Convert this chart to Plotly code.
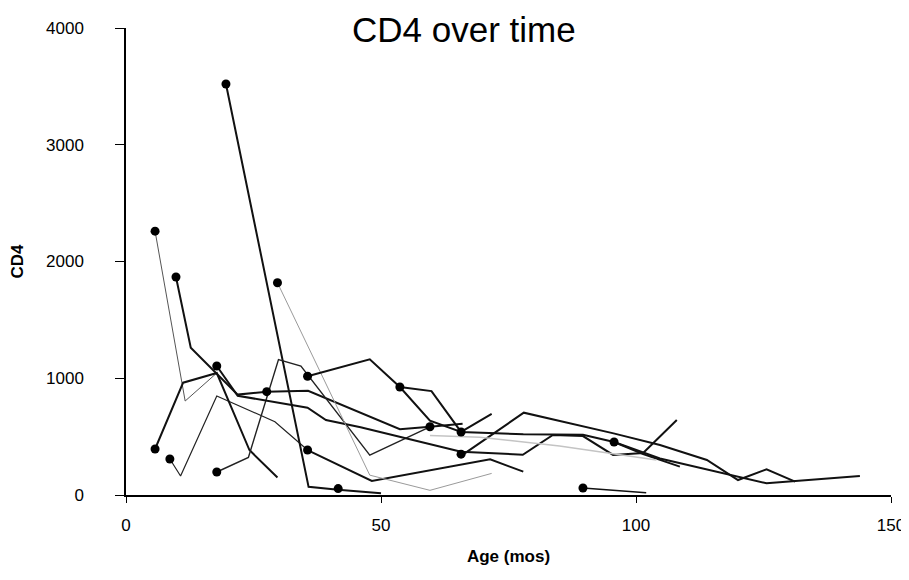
import plotly.graph_objects as go

# ---- data: each subject's CD4 trajectory (age in months, CD4 count) ----
s1_x = [5.7, 11.6, 17.8]
s1_y = [2260, 805, 1045]

s2_x = [8.6, 10.7, 17.8, 29.2, 35.6]
s2_y = [308, 163, 848, 628, 385]

s3_x = [35.6, 48.2, 71.4, 77.9]
s3_y = [385, 120, 305, 200]

s4_x = [19.6, 35.8, 41.6, 50.0]
s4_y = [3520, 70, 45, 15]

s5_x = [9.8, 12.7, 21.9, 27.6, 35.7, 47.8, 53.7, 59.6, 66.0]
s5_y = [1867, 1262, 860, 885, 893, 671, 563, 585, 610]

s6_x = [5.7, 11.2, 17.8, 24.2, 29.7]
s6_y = [394, 962, 1045, 385, 150]

s7_x = [17.8, 24.0, 29.9, 34.3, 47.8, 59.7]
s7_y = [197, 322, 1160, 1105, 342, 585]

s8_x = [17.8, 21.9, 35.6, 39.2, 46.0, 65.7, 77.8, 83.7, 89.6, 95.5, 101.4, 108.0]
s8_y = [1105, 850, 748, 642, 580, 370, 345, 514, 505, 343, 360, 642]

s9_x = [29.7, 47.8, 59.6, 71.7]
s9_y = [1818, 170, 40, 185]

s10_x = [35.6, 47.8, 53.7, 59.9, 65.7, 77.9, 89.6, 95.7, 104.7, 125.6, 143.9]
s10_y = [1017, 1162, 925, 890, 540, 520, 515, 454, 313, 100, 163]

s11_x = [53.7, 59.6, 65.7, 71.7]
s11_y = [925, 636, 540, 694]

s12_x = [65.7, 78.0, 95.6, 104.7, 113.9, 120.0, 125.6, 131.2]
s12_y = [335, 705, 528, 428, 300, 128, 220, 114]

s13_x = [95.7, 101.4, 108.6]
s13_y = [454, 350, 243]

s14_x = [89.6, 100.0, 102.0]
s14_y = [60, 30, 20]

s15_x = [59.6, 69.4, 85.0, 100.0, 104.0]
s15_y = [510, 495, 420, 330, 300]

series_x = [s1_x, s2_x, s3_x, s4_x, s5_x, s6_x, s7_x, s8_x, s9_x, s10_x, s11_x, s12_x, s13_x, s14_x, s15_x]
series_y = [s1_y, s2_y, s3_y, s4_y, s5_y, s6_y, s7_y, s8_y, s9_y, s10_y, s11_y, s12_y, s13_y, s14_y, s15_y]
series_color = ["#555555", "#222222", "#111111", "#111111", "#111111", "#111111", "#222222",
                "#111111", "#9a9a9a", "#111111", "#111111", "#111111", "#111111", "#111111", "#c4c4c4"]
series_width = [1, 1.2, 2, 2, 2, 2, 1.4, 2, 1, 2, 2, 2, 2, 1.5, 1.5]

# marked observations (filled dots)
dot_x = [5.7, 9.8, 19.6, 5.7, 8.6, 17.8, 17.8, 27.6, 29.7, 35.6, 35.6, 41.6, 53.7, 59.6, 65.7, 65.7, 89.6, 95.7]
dot_y = [2260, 1867, 3520, 394, 308, 1105, 197, 885, 1818, 1017, 385, 55, 925, 585, 540, 350, 60, 454]

fig = go.Figure()
for xs, ys, c, w in zip(series_x, series_y, series_color, series_width):
    fig.add_trace(go.Scatter(x=xs, y=ys, mode="lines",
                             line=dict(color=c, width=w), showlegend=False,
                             hoverinfo="skip"))
fig.add_trace(go.Scatter(x=dot_x, y=dot_y, mode="markers",
                         marker=dict(color="black", size=9), showlegend=False))

font_family = "Liberation Sans, Arial, sans-serif"
fig.update_layout(
    width=901, height=572,
    margin=dict(l=118, r=18, t=20, b=85, autoexpand=False),
    paper_bgcolor="white", plot_bgcolor="white",
    font=dict(family=font_family, color="black", size=17),
    title=dict(text="CD4 over time", x=0.506, xanchor="center", y=0.962, yanchor="middle",
               font=dict(size=35, family=font_family, color="black")),
    xaxis=dict(range=[0, 150], tickvals=[0, 50, 100, 150], showgrid=False, zeroline=False,
               automargin=False,
               showline=True, linecolor="black", linewidth=1.5, ticks="outside",
               ticklen=6, tickcolor="black", ticklabelstandoff=8,
               tickfont=dict(size=17),
               title=dict(text="<b>Age (mos)</b>", font=dict(size=17), standoff=16)),
    yaxis=dict(range=[0, 4000], tickvals=[0, 1000, 2000, 3000, 4000], showgrid=False,
               automargin=False,
               zeroline=False, showline=True, linecolor="black", linewidth=1.5,
               ticks="outside", ticklen=9, tickcolor="black", ticklabelstandoff=28,
               tickfont=dict(size=17),
               title=dict(text="<b>CD4</b>", font=dict(size=17), standoff=22)),
)
fig.write_html("out.html")
